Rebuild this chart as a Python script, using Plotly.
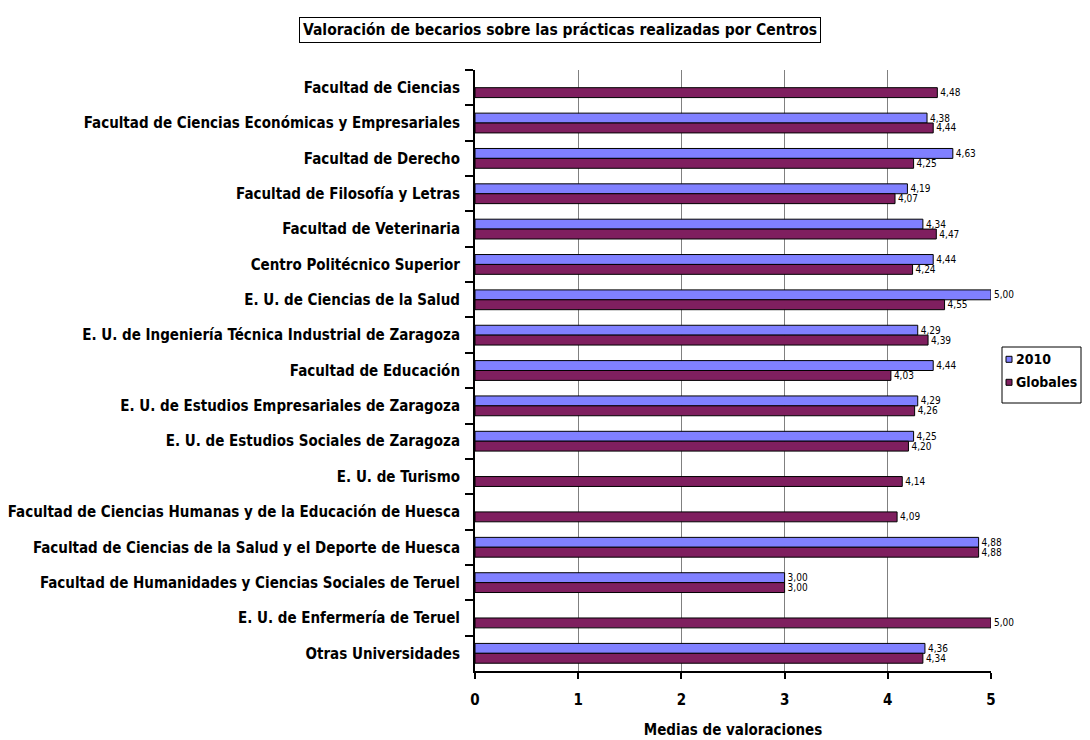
import plotly.graph_objects as go

categories = [
    "Facultad de Ciencias",
    "Facultad de Ciencias Económicas y Empresariales",
    "Facultad de Derecho",
    "Facultad de Filosofía y Letras",
    "Facultad de Veterinaria",
    "Centro Politécnico Superior",
    "E. U. de Ciencias de la Salud",
    "E. U. de Ingeniería Técnica Industrial de Zaragoza",
    "Facultad de Educación",
    "E. U. de Estudios Empresariales de Zaragoza",
    "E. U. de Estudios Sociales de Zaragoza",
    "E. U. de Turismo",
    "Facultad de Ciencias Humanas y de la Educación de Huesca",
    "Facultad de Ciencias de la Salud y el Deporte de Huesca",
    "Facultad de Humanidades y Ciencias Sociales de Teruel",
    "E. U. de Enfermería de Teruel",
    "Otras Universidades",
]
series_names = ["2010", "Globales"]
vals_2010 = [None, 4.38, 4.63, 4.19, 4.34, 4.44, 5.00, 4.29, 4.44, 4.29, 4.25,
             None, None, 4.88, 3.00, None, 4.36]
vals_glob = [4.48, 4.44, 4.25, 4.07, 4.47, 4.24, 4.55, 4.39, 4.03, 4.26, 4.20,
             4.14, 4.09, 4.88, 3.00, 5.00, 4.34]
x_ticks = [0, 1, 2, 3, 4, 5]

FONT = "DejaVu Sans Condensed, Liberation Sans Narrow, sans-serif"
BIG = 15
COL_2010 = "#8080FF"
COL_GLOB = "#7F1F5F"

W, H = 1090, 740
ML, MR, MT, MB = 467, 107, 62, 77
PW, PH = W - ML - MR, H - MT - MB


def px(x):
    return (x - ML) / PW


def py(y):
    return (H - MB - y) / PH


def fmt(v):
    return "" if v is None else f"{v:.2f}".replace(".", ",")


fig = go.Figure()
for name, vals, col in [(series_names[0], vals_2010, COL_2010),
                        (series_names[1], vals_glob, COL_GLOB)]:
    fig.add_trace(go.Bar(
        y=categories, x=vals, orientation="h", name=name,
        marker=dict(color=col, line=dict(color="#000000", width=1)),
        text=[fmt(v) for v in vals], textposition="outside",
        textfont=dict(size=10, color="#000000", family=FONT, weight="normal"),
        constraintext="none", cliponaxis=False, hoverinfo="skip",
        showlegend=False,
    ))

# legend (framed box with swatches)
shapes = [dict(type="rect", xref="paper", yref="paper",
               x0=px(994), x1=px(1073), y0=py(395), y1=py(339),
               line=dict(color="#000000", width=1), fillcolor="white", layer="above")]
annotations = []
for i, (name, col) in enumerate(zip(series_names, [COL_2010, COL_GLOB])):
    yc = 351.3 + i * 23
    shapes.append(dict(type="rect", xref="paper", yref="paper",
                       x0=px(998), x1=px(1004), y0=py(yc + 3), y1=py(yc - 3),
                       line=dict(color="#000000", width=1), fillcolor=col, layer="above"))
    annotations.append(dict(text=name, xref="paper", yref="paper",
                            x=px(1006), y=py(yc), xanchor="left", yanchor="middle",
                            showarrow=False,
                            font=dict(size=14, family=FONT, color="#000000", weight="bold")))

annotations.append(dict(
    text="Valoración de becarios sobre las prácticas realizadas por Centros",
    xref="paper", yref="paper", x=px(551.5), y=py(22),
    xanchor="center", yanchor="middle", showarrow=False,
    font=dict(size=15.5, family=FONT, color="#000000", weight="bold"),
    bordercolor="#000000", borderwidth=1, borderpad=3, bgcolor="white",
))

fig.update_layout(
    width=W, height=H,
    margin=dict(l=ML, r=MR, t=MT, b=MB, autoexpand=False),
    paper_bgcolor="white", plot_bgcolor="white",
    barmode="group", bargap=0.44, bargroupgap=0,
    font=dict(family=FONT, size=BIG, color="#000000", weight="bold"),
    showlegend=False,
    shapes=shapes,
    annotations=annotations,
)
fig.update_xaxes(
    range=[0, 5], tickvals=x_ticks, ticktext=[str(t) for t in x_ticks],
    showgrid=True, gridcolor="#808080", gridwidth=1,
    showline=True, linecolor="#000000", linewidth=2,
    ticks="outside", ticklen=6, tickwidth=2, tickcolor="#000000",
    tickfont=dict(size=BIG, family=FONT, weight="bold"),
    ticklabelstandoff=8,
    zeroline=False, automargin=False,
    title=dict(text="Medias de valoraciones", standoff=16,
               font=dict(size=BIG, family=FONT, weight="bold")),
)
fig.update_yaxes(
    autorange="reversed", type="category",
    showline=True, linecolor="#000000", linewidth=2,
    ticks="outside", ticklen=8, tickwidth=2, tickcolor="#000000",
    tickson="boundaries", showgrid=False, automargin=False,
    ticklabelstandoff=10,
    tickfont=dict(size=BIG, family=FONT, weight="bold"),
)

fig.write_html("out.html")
